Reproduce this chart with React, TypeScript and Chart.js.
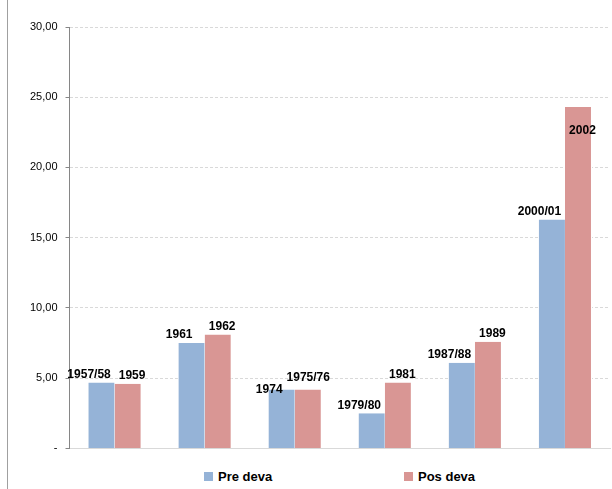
import { useEffect, useRef } from "react";
import { Chart, registerables } from "chart.js";

Chart.register(...registerables);

const categories = ["1", "2", "3", "4", "5", "6"];
const preDeva = [4.7, 7.5, 4.2, 2.5, 6.1, 16.3];
const posDeva = [4.6, 8.1, 4.2, 4.7, 7.6, 24.3];
const preLabels = ["1957/58", "1961", "1974", "1979/80", "1987/88", "2000/01"];
const posLabels = ["1959", "1962", "1975/76", "1981", "1989", "2002"];
const seriesNames = ["Pre deva", "Pos deva"];
const seriesColors = ["#95B3D7", "#D99694"];

const FONT = "'Liberation Sans', Arial, sans-serif";

const yearLabels = {
  id: "yearLabels",
  afterDatasetsDraw(chart: Chart) {
    const ctx = chart.ctx;
    ctx.save();
    ctx.font = `bold 12px ${FONT}`;
    ctx.fillStyle = "#000";
    ctx.textAlign = "center";
    ctx.textBaseline = "bottom";
    [preLabels, posLabels].forEach((labels, di) => {
      chart.getDatasetMeta(di).data.forEach((bar: any, i: number) => {
        let x = bar.x + (di === 0 ? -12 : 4);
        let y = bar.y - 2;
        if (di === 1 && i === 5) y = bar.y + 30;
        if (di === 0 && i === 2) y = bar.y + 6;
        if (di === 1 && i === 2) { y = bar.y - 6; x = bar.x; }
        ctx.fillText(labels[i], x, y);
      });
    });
    ctx.restore();
  },
};

export default function App() {
  const ref = useRef<HTMLCanvasElement>(null);
  useEffect(() => {
    if (!ref.current) return;
    const chart = new Chart(ref.current, {
      type: "bar",
      data: {
        labels: categories,
        datasets: [0, 1].map((k) => ({
          label: seriesNames[k],
          data: k === 0 ? preDeva : posDeva,
          backgroundColor: seriesColors[k],
          borderColor: "#ffffff",
          borderWidth: (k === 0 ? { left: 1, right: 0, top: 0, bottom: 0 } : { left: 0, right: 1, top: 0, bottom: 0 }) as any,
        })),
      },
      options: {
        animation: false,
        responsive: true,
        maintainAspectRatio: false,
        layout: { padding: { top: 27, right: 2, left: 14, bottom: 0 } },
        datasets: { bar: { categoryPercentage: 0.6, barPercentage: 1 } },
        plugins: { tooltip: { enabled: false }, legend: { display: false } },
        scales: {
          x: {
            grid: { display: false },
            border: { color: "#d9d9d9" },
            ticks: { display: false },
          },
          y: {
            min: 0,
            max: 30,
            ticks: {
              stepSize: 5,
              color: "#000",
              padding: 8,
              font: { family: FONT, size: 11 },
              callback: (v: any) => (v === 0 ? "-" : Number(v).toFixed(2).replace(".", ",")),
            },
            grid: { color: "#d9d9d9", tickLength: 4, tickColor: "#868686" },
            border: { color: "#868686", dash: [3, 2] as any },
          },
        },
      },
      plugins: [yearLabels],
    });
    return () => chart.destroy();
  }, []);
  return (
    <div style={{ position: "absolute", left: 0, top: 0, width: 612, height: 489, background: "#fff" }}>
      <div style={{ position: "absolute", left: 7, top: 0, width: 605, height: 489, borderLeft: "1px solid #a0a0a0", boxSizing: "border-box" }}>
        <div style={{ position: "absolute", left: 0, top: 0, width: 604, height: 463 }}>
          <canvas ref={ref} />
        </div>
        {seriesNames.map((n, k) => (
          <div key={n} style={{ position: "absolute", top: 469, left: k === 0 ? 196 : 396, display: "flex", alignItems: "center", fontFamily: FONT, fontWeight: "bold", fontSize: 13 }}>
            <span style={{ width: 9, height: 9, background: seriesColors[k], marginRight: 5, display: "inline-block" }} />
            {n}
          </div>
        ))}
      </div>
    </div>
  );
}
